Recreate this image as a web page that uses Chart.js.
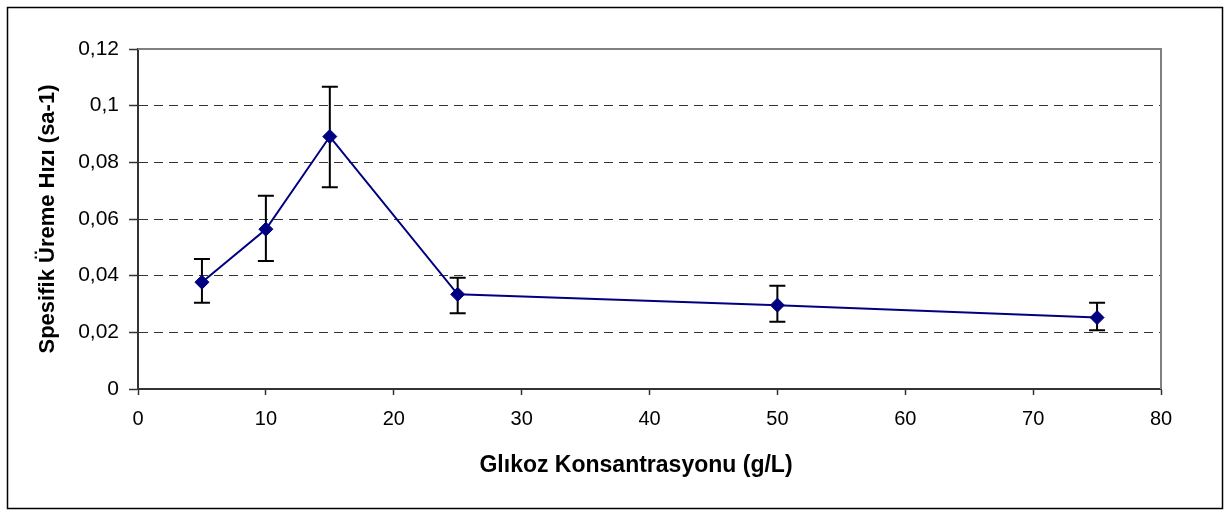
<!DOCTYPE html>
<html>
<head>
<meta charset="utf-8">
<script src="https://cdn.jsdelivr.net/npm/chart.js@4"></script>
<style>
  body { margin: 0; background: #fff; }
</style>
</head>
<body>
<canvas id="growthChart" width="1231" height="513"></canvas>
<script>
// Glucose concentration (g/L) and specific growth rate, with error bar ends
const glucose = [5, 10, 15, 25, 50, 75];
const growthRate = [0.0377, 0.0564, 0.0891, 0.0334, 0.0296, 0.0252];
const errHigh = [0.0459, 0.0682, 0.1067, 0.0393, 0.0364, 0.0304];
const errLow = [0.0304, 0.0452, 0.0712, 0.0267, 0.0237, 0.0207];
const xTitle = "Glıkoz Konsantrasyonu (g/L)";

const FONT = "'Liberation Sans', Arial, sans-serif";

// outer frame, plot-area frame and the x axis title (sits a bit left of centre)
const framePlugin = {
    id: "frame",
    beforeDraw(chart) {
        const c = chart.ctx;
        c.save();
        c.fillStyle = "#fff";
        c.fillRect(0, 0, chart.width, chart.height);
        c.strokeStyle = "#000";
        c.lineWidth = 1.5;
        c.strokeRect(7.5, 7.5, 1215, 501);
        c.restore();
    },
    afterDraw(chart) {
        const a = chart.chartArea;
        const c = chart.ctx;
        c.save();
        c.strokeStyle = "#808080";
        c.lineWidth = 2;
        c.beginPath();
        c.moveTo(a.left, a.top);
        c.lineTo(a.right, a.top);
        c.lineTo(a.right, a.bottom);
        c.stroke();
        c.fillStyle = "#000";
        c.font = "bold 23px " + FONT;
        c.textAlign = "center";
        c.textBaseline = "middle";
        c.fillText(xTitle, 636, 466);
        c.restore();
    }
};

// vertical error bars drawn behind the markers
const errorBars = {
    id: "errorBars",
    beforeDatasetsDraw(chart) {
        const x = chart.scales.x, y = chart.scales.y;
        const c = chart.ctx;
        c.save();
        c.strokeStyle = "#000";
        c.lineWidth = 2;
        glucose.forEach((g, i) => {
            const px = x.getPixelForValue(g);
            const top = y.getPixelForValue(errHigh[i]);
            const bot = y.getPixelForValue(errLow[i]);
            c.beginPath();
            c.moveTo(px, top); c.lineTo(px, bot);
            c.moveTo(px - 8, top); c.lineTo(px + 8, top);
            c.moveTo(px - 8, bot); c.lineTo(px + 8, bot);
            c.stroke();
        });
        c.restore();
    }
};

const chart = new Chart(document.getElementById("growthChart"), {
    type: "line",
    data: {
        datasets: [{
            data: glucose.map((g, i) => ({ x: g, y: growthRate[i] })),
            borderColor: "#000080",
            backgroundColor: "#000080",
            borderWidth: 2,
            pointStyle: "rectRot",
            pointRadius: 7,
            pointBorderWidth: 1,
            fill: false,
            tension: 0
        }]
    },
    options: {
        responsive: false,
        animation: false,
        layout: { padding: { top: 49, right: 70, left: 0, bottom: 0 } },
        plugins: {
            legend: { display: false },
            tooltip: { enabled: false }
        },
        scales: {
            x: {
                type: "linear",
                min: 0,
                max: 80,
                ticks: {
                    stepSize: 10,
                    color: "#000",
                    padding: 12,
                    font: { family: FONT, size: 20 }
                },
                grid: {
                    drawOnChartArea: false,
                    tickLength: 6,
                    tickColor: "#333",
                    tickWidth: 1.5
                },
                border: { color: "#333", width: 2 },
                afterFit(scale) { scale.height = 124; }
            },
            y: {
                min: 0,
                max: 0.12,
                ticks: {
                    stepSize: 0.02,
                    color: "#000",
                    padding: 10,
                    font: { family: FONT, size: 21 },
                    callback: v => String(+v.toFixed(2)).replace(".", ",")
                },
                grid: {
                    color: ctx => (ctx.tick && (ctx.tick.value === 0 || ctx.tick.value >= 0.12)) ? "rgba(0,0,0,0)" : "#333",
                    lineWidth: 1,
                    tickLength: 9,
                    tickColor: "#333",
                    tickWidth: 1.5,
                    tickBorderDash: []
                },
                border: { color: "#333", width: 2, dash: [9, 6] },
                title: {
                    display: true,
                    text: "Spesifik Üreme Hızı (sa-1)",
                    color: "#000",
                    font: { family: FONT, size: 22, weight: "bold" },
                    padding: { top: 35, bottom: 0 }
                },
                afterFit(scale) { scale.width = 138; }
            }
        }
    },
    plugins: [framePlugin, errorBars]
});
</script>
</body>
</html>
